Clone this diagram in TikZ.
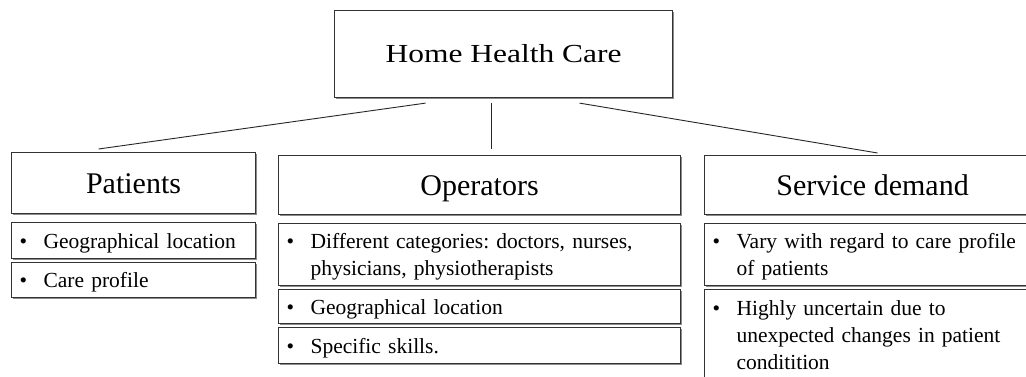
\documentclass[tikz,border=0pt]{standalone}
\usepackage{fontspec}
\setmainfont{Liberation Serif}
\usetikzlibrary{shadows}
\frenchspacing

% one line of a bullet list, with a fixed strut so every line is 27pt tall
\newcommand\rowstrut{\rule[-6pt]{0pt}{27pt}}
\newcommand\bulletrow[1]{\rowstrut\makebox[24pt][l]{\textbullet}#1}
\newcommand\controw[1]{\rowstrut\hspace*{24pt}#1}

\tikzset{
  boxbase/.style={rectangle, draw=black!80, line width=1.1pt, fill=white,
    anchor=north west, inner sep=0pt,
    drop shadow={shadow xshift=1.6pt, shadow yshift=-1.6pt, fill=black!45, opacity=1}},
  titlebox/.style={boxbase, font=\fontsize{26}{30}\selectfont, text height=17pt, text depth=0pt},
  headbox/.style={boxbase, font=\fontsize{30}{36}\selectfont, text height=20pt, text depth=0pt},
  itembox/.style={boxbase, font=\fontsize{21.5}{27}\selectfont, align=left, inner xsep=8pt},
  link/.style={draw=black!85, line width=0.9pt},
}

\begin{document}
\begin{tikzpicture}[x=1pt, y=-1pt]
  \clip (0,0) rectangle (1026,376);
  \fill[white] (0,0) rectangle (1026,376);

  % root
  \node[titlebox, minimum width=338pt, minimum height=87pt] (hhc) at (334,10)
    {\scalebox{1.21}[1]{Home Health Care}};

  % the three branches
  \node[headbox, minimum width=244pt, minimum height=61pt] (pat) at (11,152) {Patients};
  \node[headbox, minimum width=402pt, minimum height=59pt] (ops) at (278,155) {Operators};
  \node[headbox, minimum width=336pt, minimum height=59pt] (dem) at (704,155) {Service demand};

  % patients
  \node[itembox, text width=228pt, minimum height=36pt] (pat1) at (11,222)
    {\bulletrow{Geographical location}};
  \node[itembox, text width=228pt, minimum height=35pt] (pat2) at (11,262)
    {\bulletrow{Care profile}};

  % operators
  \node[itembox, text width=386pt, minimum height=62pt] (ops1) at (278,223)
    {\bulletrow{Different categories: doctors, nurses,}\\\controw{physicians, physiotherapists}};
  \node[itembox, text width=386pt, minimum height=34pt] (ops2) at (278,289)
    {\bulletrow{Geographical location}};
  \node[itembox, text width=386pt, minimum height=36pt] (ops3) at (278,327)
    {\bulletrow{Specific skills.}};

  % service demand
  \node[itembox, text width=320pt, minimum height=62pt] (dem1) at (704,223)
    {\bulletrow{Vary with regard to care profile}\\\controw{of patients}};
  \node[itembox, text width=320pt, minimum height=90pt] (dem2) at (704,289)
    {\bulletrow{Highly uncertain due to}\\\controw{unexpected changes in patient}\\\controw{conditition}};

  % connectors from the root to each branch
  \draw[link] ([shift={(-78,5)}]hhc.south) -- ([shift={(-35,-3)}]pat.north);
  \draw[link] ([shift={(-12,5)}]hhc.south) -- ([shift={(12,-6)}]ops.north);
  \draw[link] ([shift={(76,5)}]hhc.south) -- ([shift={(5,-2)}]dem.north);
\end{tikzpicture}
\end{document}
